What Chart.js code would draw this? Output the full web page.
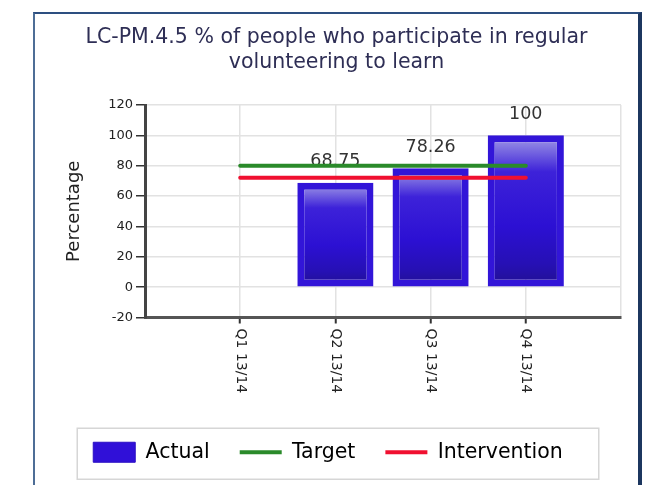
<!DOCTYPE html>
<html>
<head>
<meta charset="utf-8">
<title>LC-PM.4.5 volunteering to learn</title>
<script src="https://cdn.jsdelivr.net/npm/chart.js@4/dist/chart.umd.min.js"></script>
<style>
    html, body { margin: 0; padding: 0; background: #fff; }
    #frame {
        position: absolute;
        left: 33px;
        top: 12px;
        width: 603px;
        height: 490px;
        border-left: 2px solid #4d6d96;
        border-top: 2px solid #2d4f80;
        border-right: 4px solid #1c365f;
        overflow: hidden;
    }
    #chart { display: block; }
</style>
</head>
<body>
<div id="frame">
    <canvas id="chart" width="603" height="471"></canvas>
</div>
<script>
// Chart data
const categories = ['Q1 13/14', 'Q2 13/14', 'Q3 13/14', 'Q4 13/14'];
const actualValues = [null, 68.75, 78.26, 100];
const targetValues = [80, 80, 80, 80];
const interventionValues = [72, 72, 72, 72];
const yTicks = [-20, 0, 20, 40, 60, 80, 100, 120];

const FONT = "'DejaVu Sans', sans-serif";
Chart.defaults.font.family = FONT;
Chart.defaults.color = '#222';

// the x axis has an empty slot at each end, so pad the series
const pad = arr => [null, ...arr, null];
const axisLabels = ['', ...categories, ''];

/**
 * Bar fill: light lavender at the top fading to deep blue, darker at the base
 */
function barFill(context) {
    const chart = context.chart;
    if (!chart.chartArea || context.type !== 'data' || context.raw == null) return '#3010d8';
    const y = chart.scales.y;
    const top = y.getPixelForValue(context.raw);
    const base = y.getPixelForValue(0);
    const g = chart.ctx.createLinearGradient(0, top, 0, base);
    g.addColorStop(0, '#a49ae9');
    g.addColorStop(0.06, '#8a7ee3');
    g.addColorStop(0.24, '#3d22d9');
    g.addColorStop(0.6, '#2c10d3');
    g.addColorStop(0.85, '#2610b4');
    g.addColorStop(1, '#211090');
    return g;
}

// values above the bars, drawn before the lines so the lines sit on top
const barLabels = {
    id: 'barLabels',
    afterDatasetDraw(chart, args) {
        if (args.index !== 0) return;
        const ctx = chart.ctx;
        ctx.save();
        ctx.font = '17.5px ' + FONT;
        ctx.fillStyle = '#333';
        ctx.textAlign = 'center';
        ctx.textBaseline = 'middle';
        args.meta.data.forEach((bar, i) => {
            const v = chart.data.datasets[0].data[i];
            if (v == null) return;
            ctx.fillText(String(v), bar.x, bar.y - 21);
        });
        ctx.restore();
    }
};

// category labels rotated to read top to bottom
const xLabels = {
    id: 'xLabels',
    afterDraw(chart) {
        const ctx = chart.ctx;
        const xs = chart.scales.x;
        ctx.save();
        ctx.font = '14px ' + FONT;
        ctx.fillStyle = '#222';
        ctx.textAlign = 'left';
        ctx.textBaseline = 'middle';
        axisLabels.forEach((label, i) => {
            if (!label) return;
            ctx.save();
            ctx.translate(xs.getPixelForTick(i), chart.chartArea.bottom + 11);
            ctx.rotate(Math.PI / 2);
            ctx.fillText(label, 0, 0);
            ctx.restore();
        });
        ctx.restore();
    }
};

// the title is centred on the whole frame, the legend a little left of it
const centreTitle = {
    id: 'centreTitle',
    afterLayout(chart) {
        const t = chart.titleBlock;
        if (!t) return;
        t.left += 8.5;
        t.right += 8.5;
    }
};

// thin grey box round the legend
const legendBox = {
    id: 'legendBox',
    afterDraw(chart) {
        const boxes = chart.legend.legendHitBoxes;
        if (!boxes || !boxes.length) return;
        const first = boxes[0];
        const last = boxes[boxes.length - 1];
        const mid = first.top + first.height / 2;
        const ctx = chart.ctx;
        ctx.save();
        ctx.strokeStyle = '#d6d6d6';
        ctx.lineWidth = 1.5;
        ctx.strokeRect(first.left - 16, mid - 24, last.left + last.width + 36 - (first.left - 16), 51);
        ctx.restore();
    }
};

const legendStyles = [
    { fillStyle: '#3010d8', strokeStyle: '#2a0fc4', lineWidth: 1, pointStyle: 'rect' },
    { fillStyle: '#2a8a2a', strokeStyle: '#2a8a2a', lineWidth: 4, pointStyle: 'line' },
    { fillStyle: '#f01030', strokeStyle: '#f01030', lineWidth: 4, pointStyle: 'line' }
];

new Chart(document.getElementById('chart'), {
    type: 'bar',
    data: {
        labels: axisLabels,
        datasets: [
            {
                label: 'Actual',
                data: pad(actualValues),
                backgroundColor: barFill,
                borderColor: '#3215d8',
                borderWidth: 7,
                borderSkipped: false,
                barPercentage: 1,
                categoryPercentage: 0.8,
                order: 2
            },
            {
                type: 'line',
                label: 'Target',
                data: pad(targetValues),
                borderColor: '#2a8a2a',
                borderWidth: 4,
                borderCapStyle: 'round',
                pointRadius: 0,
                fill: false,
                order: 1
            },
            {
                type: 'line',
                label: 'Intervention',
                data: pad(interventionValues),
                borderColor: '#f01030',
                borderWidth: 4,
                borderCapStyle: 'round',
                pointRadius: 0,
                fill: false,
                order: 1
            }
        ]
    },
    options: {
        responsive: false,
        animation: false,
        layout: { padding: { left: 0, right: 17, top: 0, bottom: 12.5 } },
        plugins: {
            title: {
                display: true,
                text: ['LC-PM.4.5 % of people who participate in regular', 'volunteering to learn'],
                color: '#2e2e55',
                font: { size: 20.5, weight: 'normal', lineHeight: 25 / 20.5 },
                padding: { top: 11.5, bottom: 29.5 }
            },
            legend: {
                position: 'bottom',
                labels: {
                    usePointStyle: true,
                    pointStyleWidth: 42,
                    boxHeight: 20,
                    padding: 30,
                    color: '#222',
                    font: { size: 20.5 },
                    generateLabels: chart => chart.data.datasets.map((ds, i) => ({
                        text: ds.label,
                        datasetIndex: i,
                        hidden: false,
                        ...legendStyles[i]
                    }))
                }
            },
            tooltip: { enabled: false }
        },
        scales: {
            x: {
                offset: false,
                grid: {
                    offset: false,
                    color: '#e2e2e2',
                    lineWidth: 1.5,
                    tickLength: 6,
                    tickWidth: 2,
                    tickColor: c => (axisLabels[c.index] ? '#333' : 'rgba(0,0,0,0)')
                },
                border: { color: '#555', width: 3 },
                ticks: { display: false, autoSkip: false },
                afterFit: scale => { scale.height = 94.5; }
            },
            y: {
                min: yTicks[0],
                max: yTicks[yTicks.length - 1],
                afterBuildTicks: scale => { scale.ticks = yTicks.map(v => ({ value: v })); },
                grid: {
                    color: '#e2e2e2',
                    lineWidth: 1.5,
                    tickLength: 9,
                    tickWidth: 1.5,
                    tickColor: '#333'
                },
                border: { color: '#444', width: 3 },
                ticks: { font: { size: 13 }, color: '#222', padding: 3 },
                title: {
                    display: true,
                    text: 'Percentage',
                    color: '#222',
                    font: { size: 18 },
                    padding: { top: 29, bottom: 0 }
                },
                afterFit: scale => { scale.width = 110; }
            }
        }
    },
    plugins: [barLabels, xLabels, centreTitle, legendBox]
});
</script>
</body>
</html>
